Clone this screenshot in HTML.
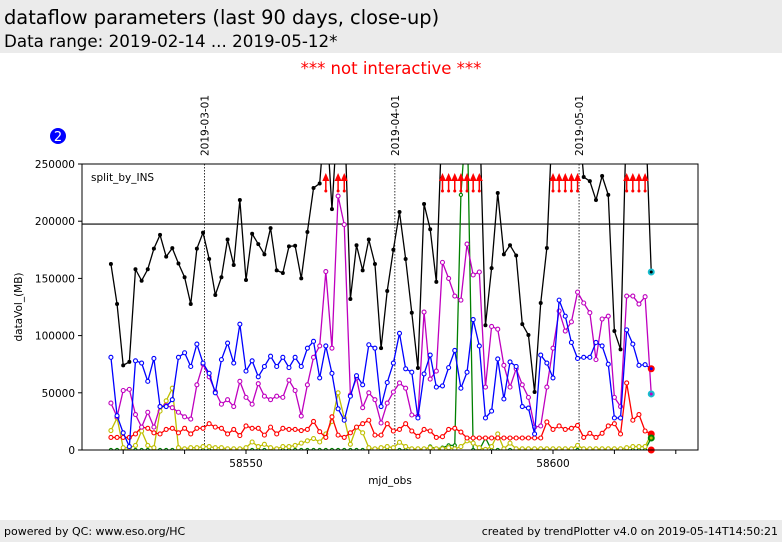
<!DOCTYPE html>
<html><head><meta charset="utf-8"><style>
body{margin:0;width:782px;height:542px;background:#fff;font-family:"DejaVu Sans","Liberation Sans",sans-serif;overflow:hidden;position:relative}
.hdr{position:absolute;left:0;top:0;width:782px;height:53px;background:#ebebeb}
.ftr{position:absolute;left:0;top:520px;width:782px;height:22px;background:#ebebeb;font-size:11px}
</style></head><body>
<div class="hdr">
<div style="position:absolute;left:4px;top:6px;font-size:19.4px">dataflow parameters (last 90 days, close-up)</div>
<div style="position:absolute;left:4px;top:31px;font-size:16.7px">Data range: 2019-02-14 ... 2019-05-12*</div>
</div>
<div style="position:absolute;left:0;width:782px;top:59px;text-align:center;color:#ff0000;font-size:16.5px">*** not interactive ***</div>
<svg id="chart" width="782" height="542" style="position:absolute;left:0;top:0" font-family="DejaVu Sans, Liberation Sans, sans-serif"></svg>
<div class="ftr">
<span style="position:absolute;left:4px;top:5px">powered by QC: www.eso.org/HC</span>
<span style="position:absolute;right:4px;top:5px">created by trendPlotter v4.0 on 2019-05-14T14:50:21</span>
</div>
<script>
const startMjd = 58528;
const blackVals = [162.6,127.6,74,77,158,148,158,176,188,169,176.5,163,151,127.6,176,190,167,135.5,151,184,161.7,218.5,148.6,189,180,171,194,157,154.7,178,178.5,150,190.6,229,233,300,210.6,300,300,132,179,157,184,162.6,89,139,175,208,167,120,71.7,215,193,147,300,300,300,300,300,300,300,109,159,224.6,171,179,170,110,100.5,50.7,128.5,176.6,300,300,300,300,300,238.6,235,218.5,239.5,223,104,88,300,300,300,300,155.6];
const blueVals = [81,30,15,3,78,76,60,80,38,38,44,81,85,73,92.6,76,67,50,79,93.5,76,110,69,78,64,73,82,73,81,72,81,73,89,95,63,91,67,36,26,47,65,57,92,89,38,59,76,102,71,68,28,66.5,83,55,56,72,87,54,68,114,91,28,34,79.6,44.6,77,73,38,36.7,14,83,76,63,131,117,94,80,81,81,94,91,75,28,28,105,92.6,74,74.6,71];
const magentaVals = [41,29,52,53,31,20,33,20,38,39,37,33,29,27,57,75,64,51,40,44,38,60,46,40,58,47,44,47,46,61,52,29.7,57,81,91,156,89,222,197,48,63,37,50,44,23.6,41,50.7,58.6,54,30.6,29.7,120.6,62,69,164,150,134.6,131,180,153,155.6,55,108,105.6,74,55,71,57,46,20,21,55,89,121.5,104,112,138,128.5,120,79,114.5,117,46,38,134.6,134.6,127.6,134,49];
const redVals = [11,11,11,11,14,20,19,15,14,18,19,15,19,14,19,19,23,20,19,14,18,12.6,21,19,19,13,20,14,19,18,18,17,18,25,16,11,29,13,11,15,20,23,26,13,13,23,16.6,18,23,16.6,12,18,16.6,11,11.6,18,19,15.7,10.5,10.5,10.5,10.5,10.5,10.5,10.5,10.5,10.5,10.5,10.5,10.5,10.5,24.5,18,21,18,19,21.5,11,14.6,11,14.6,21,23,14,58.6,26,31,16.6,14];
const yellowVals = [17,28,2,2,4,16.6,4,2,34,43,54,2,1,2,2,3,3,2,2,1,1,1,2,7,3,5,2,1,3,3,4,6,8,10,7,14,25,50,28,5,20,15,2,1,2,3,2,6.7,3,1,1,1,2,1,1,2,1,3,8,6,2,0.5,3,14,1,6,1,1,1,1,1,1,1,1,1,1,4,1,1,1,1,1,1,1,2,3,3,3,14];
const greenVals = [0,0,0,0,0,0,0,0,0,0,0,0,0,0,0,0,0,0,0,0,0,0,0,0,0,0,0,0,0,0,0,0,0,0,0,0,0,0,0,0,0,0,0,0,0,0,0,0,0,0,0,0,3,1,2,4,4,223,300,0,0,10.5,0,0,0,0,0,0,0,0,0,0,0,0,0,0,0,0,0,0,0,0,0,0,0,0,0,0,10.5];
const yTicks = [0,50000,100000,150000,200000,250000];
const xTicks = [58530,58540,58550,58560,58570,58580,58590,58600,58610,58620];
const xTickLabels = [58550,58600];
const dateLines = [{mjd:58543,label:"2019-03-01"},{mjd:58574,label:"2019-04-01"},{mjd:58604,label:"2019-05-01"}];
const refLine = 197500;

const X0=82,X1=698,Y0=164,Y1=450;
const xs = m => 246 + (m-58550)*6.14;
const ys = v => Y1 - v/250000*(Y1-Y0);
const NS="http://www.w3.org/2000/svg";
const svg=document.getElementById('chart');
function mk(tag,attrs,parent){const e=document.createElementNS(NS,tag);for(const k in attrs)e.setAttribute(k,attrs[k]);(parent||svg).appendChild(e);return e;}

const defs=mk('defs',{});const cp=mk('clipPath',{id:'pc'},defs);mk('rect',{x:X0,y:Y0,width:X1-X0,height:Y1-Y0},cp);

const bc=mk('circle',{cx:58,cy:136,r:8,fill:'#0000ff'});


const bt=mk('text',{x:58,y:141,'text-anchor':'middle','font-size':13,fill:'#fff'});bt.textContent='2';



dateLines.forEach(d=>{
 const x=xs(d.mjd)+1.5;
 const l=mk('line',{x1:x,x2:x,y1:Y0,y2:Y1,stroke:'#000','stroke-width':0.8,'stroke-dasharray':'1.5,1.5'});
 
 
 const t=mk('text',{x:0,y:0,'font-size':10.5,transform:`translate(${x+4},156) rotate(-90)`});t.textContent=d.label;
 
 
});

const rl=mk('line',{x1:X0,x2:X1,y1:ys(refLine),y2:ys(refLine),stroke:'#000','stroke-width':1.2});



yTicks.forEach(v=>{
 const y=ys(v);
 mk('line',{x1:X0-4,x2:X0,y1:y,y2:y,stroke:'#000'});
 const t=mk('text',{x:X0-7,y:y+4,'text-anchor':'end','font-size':10.5});t.textContent=v;
 
 
});
xTicks.forEach(m=>{
 const x=xs(m);
 mk('line',{x1:x,x2:x,y1:Y1,y2:Y1+4,stroke:'#000'});
});
xTickLabels.forEach(m=>{
 const t=mk('text',{x:xs(m),y:467,'text-anchor':'middle','font-size':10.5});t.textContent=m;
 
 
});
const xt=mk('text',{x:390,y:484,'text-anchor':'middle','font-size':10.5});xt.textContent='mjd_obs';


const yt=mk('text',{x:0,y:0,'text-anchor':'middle','font-size':10.5,transform:'translate(22,307) rotate(-90)'});yt.textContent='dataVol_(MB)';


const lg=mk('text',{x:91,y:181,'font-size':10.5});lg.textContent='split_by_INS';



const g=mk('g',{'clip-path':'url(#pc)'});
function series(vals,color,name,hollow,r){
 const pts=vals.map((v,i)=>[xs(startMjd+i),ys(v*1000)]);
 const pl=mk('polyline',{points:pts.map(p=>p.join(',')).join(' '),fill:'none',stroke:color,'stroke-width':1.3},g);
 
 
 pts.forEach(p=>{
  const c=mk('circle',{cx:p[0],cy:p[1],r:r,fill:hollow?'#fff':color,stroke:color,'stroke-width':hollow?1.1:0},g);
  
  
 });
}
series(greenVals,'#008000','green-series',true,1.6);
series(yellowVals,'#bfbf00','yellow-series',true,2);
series(redVals,'#ff0000','red-series',true,2);
series(magentaVals,'#bf00bf','magenta-series',true,2);
series(blueVals,'#0000ff','blue-series',true,2);
series(blackVals,'#000000','black-series',false,2);

blackVals.forEach((v,i)=>{
 if(v*1000>250000){
  const x=xs(startMjd+i);
  const a=mk('g',{});
  
  
  mk('line',{x1:x,x2:x,y1:191,y2:180,stroke:'#ff0000','stroke-width':1.5},a);
  mk('polygon',{points:`${x-3.5},181 ${x+3.5},181 ${x},173`,fill:'#ff0000'},a);
  mk('circle',{cx:x,cy:191,r:1.5,fill:'#ff0000'},a);
 }
});

const last=blackVals.length-1, lx=xs(startMjd+last);
[[blackVals[last],'#17becf','#000'],[blueVals[last],'#ff0000','#0000ff'],[magentaVals[last],'#17becf','#bf00bf'],[redVals[last],'#ff0000','#ff0000'],[greenVals[last],'#008000','#bfbf00'],[0,'#ff0000','#ff0000']].forEach(m=>{
 const c=mk('circle',{cx:lx,cy:ys(m[0]*1000),r:3.5,fill:m[1]});
 
 
 mk('circle',{cx:lx,cy:ys(m[0]*1000),r:1.5,fill:m[2]});
});

const fr=mk('rect',{x:X0,y:Y0,width:X1-X0,height:Y1-Y0,fill:'none',stroke:'#000','stroke-width':1});


</script>
</body></html>
